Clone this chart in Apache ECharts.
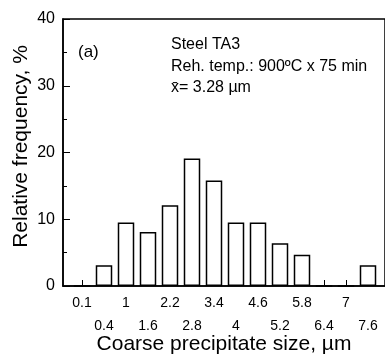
<!DOCTYPE html>
<html><head><meta charset="utf-8">
<script src="https://cdn.jsdelivr.net/npm/echarts@6/dist/echarts.min.js"></script>
<style>html,body{margin:0;padding:0;background:#fff}#c{width:385px;height:355px}</style>
</head><body><div id="c"></div>
<script>
const categories = ['0.1','0.4','1','1.6','2.2','2.8','3.4','4','4.6','5.2','5.8','6.4','7','7.6'];
const frequency = [0, 3.1, 9.5, 8.1, 12.1, 19.1, 15.8, 9.5, 9.5, 6.4, 4.7, 0, 0, 3.1];
const yTicks = [0, 10, 20, 30, 40];
const annotations = ['Steel TA3', 'Reh. temp.: 900\u00BAC x 75 min', 'x\u0304= 3.28 \u00B5m'];

const font = '"Liberation Sans", Arial, Helvetica, sans-serif';
const idx = categories.map((c, i) => i);
const chart = echarts.init(document.getElementById('c'));
chart.setOption({
  animation: false,
  backgroundColor: '#fff',
  textStyle: { fontFamily: font, color: '#000' },
  grid: { left: 63, right: 0, top: 19, bottom: 69, outerBoundsMode: 'none', containLabel: false,
          show: true, borderColor: '#000', borderWidth: 1.5, backgroundColor: 'transparent' },
  xAxis: {
    type: 'value',
    min: -19 / 22,
    max: 303 / 22,
    splitLine: { show: false },
    axisLine: { show: true, onZero: false, lineStyle: { color: '#000', width: 1.5 } },
    axisTick: { show: true, inside: true, length: 6, customValues: idx, lineStyle: { color: '#000', width: 1 } },
    axisLabel: {
      customValues: idx, margin: 6, fontSize: 14, lineHeight: 23, color: '#000', fontFamily: font,
      formatter: v => { const i = Math.round(v); return i % 2 ? '\n' + categories[i] : categories[i]; }
    },
    name: 'Coarse precipitate size, \u00B5m',
    nameLocation: 'middle', nameGap: 48, nameMoveOverlap: false,
    nameTextStyle: { fontSize: 21, color: '#000', fontFamily: font }
  },
  yAxis: {
    type: 'value', min: yTicks[0], max: yTicks[yTicks.length - 1], interval: 10,
    splitLine: { show: false },
    axisLine: { show: true, onZero: false, lineStyle: { color: '#000', width: 1.5 } },
    axisTick: { show: true, inside: true, length: 7, lineStyle: { color: '#000', width: 1 } },
    minorTick: { show: true, splitNumber: 2, length: 4, lineStyle: { color: '#000', width: 1 } },
    axisLabel: { fontSize: 16, color: '#000', margin: 8, fontFamily: font },
    name: 'Relative frequency, %',
    nameLocation: 'middle', nameGap: 31, nameMoveOverlap: false,
    nameTextStyle: { fontSize: 21, color: '#000', fontFamily: font, padding: [0, 0, 0, 12] }
  },
  series: [{
    type: 'bar',
    barWidth: 16.5,
    data: frequency.map((v, i) => [i, v]),
    itemStyle: { color: '#fff', borderColor: '#000', borderWidth: 1.5 }
  }],
  graphic: [
    { type: 'text', left: 78, top: 44, style: { text: '(a)', fontSize: 17, fontFamily: font, fill: '#000' } },
    { type: 'text', left: 171, top: 37, style: { text: annotations[0], fontSize: 16, fontFamily: font, fill: '#000' } },
    { type: 'text', left: 171, top: 58.5, style: { text: annotations[1], fontSize: 16, fontFamily: font, fill: '#000' } },
    { type: 'text', left: 171, top: 80, style: { text: annotations[2], fontSize: 16, fontFamily: font, fill: '#000' } }
  ]
});
</script></body></html>
